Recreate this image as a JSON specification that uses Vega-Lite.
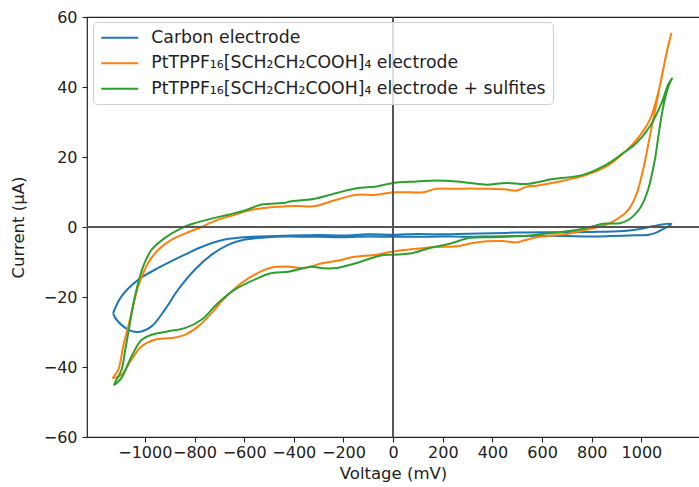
{
  "$schema": "https://vega.github.io/schema/vega-lite/v6.json",
  "width": 614,
  "height": 420,
  "autosize": {"type": "none"},
  "padding": {"left": 87, "top": 17, "right": 0, "bottom": 50},
  "background": "white",
  "config": {
    "view": {"stroke": "#222", "strokeWidth": 1.2},
    "font": "DejaVu Sans",
    "axis": {
      "domain": false,
      "grid": false,
      "tickColor": "#222",
      "tickSize": 5,
      "tickWidth": 1.1,
      "labelFont": "DejaVu Sans",
      "labelFontSize": 16,
      "labelColor": "#222",
      "labelOverlap": false,
      "titleFont": "DejaVu Sans",
      "titleFontSize": 16.5,
      "titleFontWeight": "normal",
      "titleColor": "#222"
    }
  },
  "data": {
    "values": [
      {"s": "Carbon electrode", "i": 1, "v": -1128, "c": -24.6},
      {"s": "Carbon electrode", "i": 2, "v": -1094, "c": -19.8},
      {"s": "Carbon electrode", "i": 3, "v": -1027, "c": -15.1},
      {"s": "Carbon electrode", "i": 4, "v": -946, "c": -11.7},
      {"s": "Carbon electrode", "i": 5, "v": -839, "c": -7.9},
      {"s": "Carbon electrode", "i": 6, "v": -772, "c": -5.7},
      {"s": "Carbon electrode", "i": 7, "v": -678, "c": -3.6},
      {"s": "Carbon electrode", "i": 8, "v": -570, "c": -2.8},
      {"s": "Carbon electrode", "i": 9, "v": -436, "c": -2.5},
      {"s": "Carbon electrode", "i": 10, "v": -300, "c": -2.3},
      {"s": "Carbon electrode", "i": 11, "v": -200, "c": -2.4},
      {"s": "Carbon electrode", "i": 12, "v": -100, "c": -2.1},
      {"s": "Carbon electrode", "i": 13, "v": 0, "c": -2.2},
      {"s": "Carbon electrode", "i": 14, "v": 100, "c": -2.0},
      {"s": "Carbon electrode", "i": 15, "v": 200, "c": -2.1},
      {"s": "Carbon electrode", "i": 16, "v": 300, "c": -1.9},
      {"s": "Carbon electrode", "i": 17, "v": 400, "c": -1.8},
      {"s": "Carbon electrode", "i": 18, "v": 500, "c": -1.6},
      {"s": "Carbon electrode", "i": 19, "v": 600, "c": -1.5},
      {"s": "Carbon electrode", "i": 20, "v": 700, "c": -1.5},
      {"s": "Carbon electrode", "i": 21, "v": 800, "c": -1.4},
      {"s": "Carbon electrode", "i": 22, "v": 880, "c": -1.3},
      {"s": "Carbon electrode", "i": 23, "v": 940, "c": -1.1},
      {"s": "Carbon electrode", "i": 24, "v": 1000, "c": -0.5},
      {"s": "Carbon electrode", "i": 25, "v": 1050, "c": 0.3},
      {"s": "Carbon electrode", "i": 26, "v": 1121, "c": 0.9},
      {"s": "Carbon electrode", "i": 27, "v": 1090, "c": -0.5},
      {"s": "Carbon electrode", "i": 28, "v": 1060, "c": -1.6},
      {"s": "Carbon electrode", "i": 29, "v": 1030, "c": -2.2},
      {"s": "Carbon electrode", "i": 30, "v": 950, "c": -2.4},
      {"s": "Carbon electrode", "i": 31, "v": 870, "c": -2.6},
      {"s": "Carbon electrode", "i": 32, "v": 800, "c": -2.7},
      {"s": "Carbon electrode", "i": 33, "v": 700, "c": -2.6},
      {"s": "Carbon electrode", "i": 34, "v": 600, "c": -2.5},
      {"s": "Carbon electrode", "i": 35, "v": 500, "c": -2.6},
      {"s": "Carbon electrode", "i": 36, "v": 400, "c": -2.7},
      {"s": "Carbon electrode", "i": 37, "v": 300, "c": -2.8},
      {"s": "Carbon electrode", "i": 38, "v": 200, "c": -2.7},
      {"s": "Carbon electrode", "i": 39, "v": 100, "c": -2.8},
      {"s": "Carbon electrode", "i": 40, "v": 0, "c": -2.8},
      {"s": "Carbon electrode", "i": 41, "v": -100, "c": -2.7},
      {"s": "Carbon electrode", "i": 42, "v": -200, "c": -2.9},
      {"s": "Carbon electrode", "i": 43, "v": -300, "c": -2.8},
      {"s": "Carbon electrode", "i": 44, "v": -436, "c": -2.7},
      {"s": "Carbon electrode", "i": 45, "v": -517, "c": -3.0},
      {"s": "Carbon electrode", "i": 46, "v": -597, "c": -3.6},
      {"s": "Carbon electrode", "i": 47, "v": -665, "c": -5.1},
      {"s": "Carbon electrode", "i": 48, "v": -731, "c": -7.9},
      {"s": "Carbon electrode", "i": 49, "v": -799, "c": -12.2},
      {"s": "Carbon electrode", "i": 50, "v": -866, "c": -17.9},
      {"s": "Carbon electrode", "i": 51, "v": -919, "c": -23.6},
      {"s": "Carbon electrode", "i": 52, "v": -973, "c": -28.4},
      {"s": "Carbon electrode", "i": 53, "v": -1027, "c": -30.0},
      {"s": "Carbon electrode", "i": 54, "v": -1067, "c": -29.3},
      {"s": "Carbon electrode", "i": 55, "v": -1114, "c": -26.5},
      {"s": "Carbon electrode", "i": 56, "v": -1128, "c": -24.6},

      {"s": "PtTPPF₁₆[SCH₂CH₂COOH]₄ electrode", "i": 1, "v": 1121, "c": 55.4},
      {"s": "PtTPPF₁₆[SCH₂CH₂COOH]₄ electrode", "i": 2, "v": 1114, "c": 53.5},
      {"s": "PtTPPF₁₆[SCH₂CH₂COOH]₄ electrode", "i": 3, "v": 1087, "c": 44.9},
      {"s": "PtTPPF₁₆[SCH₂CH₂COOH]₄ electrode", "i": 4, "v": 1061, "c": 35.4},
      {"s": "PtTPPF₁₆[SCH₂CH₂COOH]₄ electrode", "i": 5, "v": 1034, "c": 25.9},
      {"s": "PtTPPF₁₆[SCH₂CH₂COOH]₄ electrode", "i": 6, "v": 1007, "c": 16.4},
      {"s": "PtTPPF₁₆[SCH₂CH₂COOH]₄ electrode", "i": 7, "v": 975, "c": 8.4},
      {"s": "PtTPPF₁₆[SCH₂CH₂COOH]₄ electrode", "i": 8, "v": 940, "c": 4.3},
      {"s": "PtTPPF₁₆[SCH₂CH₂COOH]₄ electrode", "i": 9, "v": 913, "c": 2.8},
      {"s": "PtTPPF₁₆[SCH₂CH₂COOH]₄ electrode", "i": 10, "v": 886, "c": 1.6},
      {"s": "PtTPPF₁₆[SCH₂CH₂COOH]₄ electrode", "i": 11, "v": 859, "c": 0.7},
      {"s": "PtTPPF₁₆[SCH₂CH₂COOH]₄ electrode", "i": 12, "v": 779, "c": -0.8},
      {"s": "PtTPPF₁₆[SCH₂CH₂COOH]₄ electrode", "i": 13, "v": 700, "c": -2.0},
      {"s": "PtTPPF₁₆[SCH₂CH₂COOH]₄ electrode", "i": 14, "v": 620, "c": -2.6},
      {"s": "PtTPPF₁₆[SCH₂CH₂COOH]₄ electrode", "i": 15, "v": 577, "c": -2.9},
      {"s": "PtTPPF₁₆[SCH₂CH₂COOH]₄ electrode", "i": 16, "v": 530, "c": -3.8},
      {"s": "PtTPPF₁₆[SCH₂CH₂COOH]₄ electrode", "i": 17, "v": 497, "c": -4.4},
      {"s": "PtTPPF₁₆[SCH₂CH₂COOH]₄ electrode", "i": 18, "v": 440, "c": -4.0},
      {"s": "PtTPPF₁₆[SCH₂CH₂COOH]₄ electrode", "i": 19, "v": 376, "c": -4.1},
      {"s": "PtTPPF₁₆[SCH₂CH₂COOH]₄ electrode", "i": 20, "v": 320, "c": -4.6},
      {"s": "PtTPPF₁₆[SCH₂CH₂COOH]₄ electrode", "i": 21, "v": 255, "c": -5.5},
      {"s": "PtTPPF₁₆[SCH₂CH₂COOH]₄ electrode", "i": 22, "v": 175, "c": -5.7},
      {"s": "PtTPPF₁₆[SCH₂CH₂COOH]₄ electrode", "i": 23, "v": 81, "c": -6.3},
      {"s": "PtTPPF₁₆[SCH₂CH₂COOH]₄ electrode", "i": 24, "v": 0, "c": -7.0},
      {"s": "PtTPPF₁₆[SCH₂CH₂COOH]₄ electrode", "i": 25, "v": -67, "c": -7.9},
      {"s": "PtTPPF₁₆[SCH₂CH₂COOH]₄ electrode", "i": 26, "v": -161, "c": -8.6},
      {"s": "PtTPPF₁₆[SCH₂CH₂COOH]₄ electrode", "i": 27, "v": -220, "c": -9.6},
      {"s": "PtTPPF₁₆[SCH₂CH₂COOH]₄ electrode", "i": 28, "v": -282, "c": -10.3},
      {"s": "PtTPPF₁₆[SCH₂CH₂COOH]₄ electrode", "i": 29, "v": -362, "c": -11.7},
      {"s": "PtTPPF₁₆[SCH₂CH₂COOH]₄ electrode", "i": 30, "v": -429, "c": -11.3},
      {"s": "PtTPPF₁₆[SCH₂CH₂COOH]₄ electrode", "i": 31, "v": -497, "c": -11.7},
      {"s": "PtTPPF₁₆[SCH₂CH₂COOH]₄ electrode", "i": 32, "v": -544, "c": -13.1},
      {"s": "PtTPPF₁₆[SCH₂CH₂COOH]₄ electrode", "i": 33, "v": -611, "c": -16.0},
      {"s": "PtTPPF₁₆[SCH₂CH₂COOH]₄ electrode", "i": 34, "v": -678, "c": -20.3},
      {"s": "PtTPPF₁₆[SCH₂CH₂COOH]₄ electrode", "i": 35, "v": -731, "c": -24.6},
      {"s": "PtTPPF₁₆[SCH₂CH₂COOH]₄ electrode", "i": 36, "v": -785, "c": -28.4},
      {"s": "PtTPPF₁₆[SCH₂CH₂COOH]₄ electrode", "i": 37, "v": -839, "c": -30.8},
      {"s": "PtTPPF₁₆[SCH₂CH₂COOH]₄ electrode", "i": 38, "v": -892, "c": -31.7},
      {"s": "PtTPPF₁₆[SCH₂CH₂COOH]₄ electrode", "i": 39, "v": -960, "c": -32.2},
      {"s": "PtTPPF₁₆[SCH₂CH₂COOH]₄ electrode", "i": 40, "v": -1013, "c": -34.1},
      {"s": "PtTPPF₁₆[SCH₂CH₂COOH]₄ electrode", "i": 41, "v": -1054, "c": -37.9},
      {"s": "PtTPPF₁₆[SCH₂CH₂COOH]₄ electrode", "i": 42, "v": -1094, "c": -42.2},
      {"s": "PtTPPF₁₆[SCH₂CH₂COOH]₄ electrode", "i": 43, "v": -1128, "c": -43.1},
      {"s": "PtTPPF₁₆[SCH₂CH₂COOH]₄ electrode", "i": 44, "v": -1107, "c": -40.8},
      {"s": "PtTPPF₁₆[SCH₂CH₂COOH]₄ electrode", "i": 45, "v": -1087, "c": -34.0},
      {"s": "PtTPPF₁₆[SCH₂CH₂COOH]₄ electrode", "i": 46, "v": -1067, "c": -28.4},
      {"s": "PtTPPF₁₆[SCH₂CH₂COOH]₄ electrode", "i": 47, "v": -1047, "c": -22.5},
      {"s": "PtTPPF₁₆[SCH₂CH₂COOH]₄ electrode", "i": 48, "v": -1027, "c": -17.0},
      {"s": "PtTPPF₁₆[SCH₂CH₂COOH]₄ electrode", "i": 49, "v": -1007, "c": -13.3},
      {"s": "PtTPPF₁₆[SCH₂CH₂COOH]₄ electrode", "i": 50, "v": -987, "c": -10.3},
      {"s": "PtTPPF₁₆[SCH₂CH₂COOH]₄ electrode", "i": 51, "v": -946, "c": -6.5},
      {"s": "PtTPPF₁₆[SCH₂CH₂COOH]₄ electrode", "i": 52, "v": -892, "c": -3.6},
      {"s": "PtTPPF₁₆[SCH₂CH₂COOH]₄ electrode", "i": 53, "v": -839, "c": -1.9},
      {"s": "PtTPPF₁₆[SCH₂CH₂COOH]₄ electrode", "i": 54, "v": -772, "c": 0.0},
      {"s": "PtTPPF₁₆[SCH₂CH₂COOH]₄ electrode", "i": 55, "v": -705, "c": 2.1},
      {"s": "PtTPPF₁₆[SCH₂CH₂COOH]₄ electrode", "i": 56, "v": -638, "c": 3.5},
      {"s": "PtTPPF₁₆[SCH₂CH₂COOH]₄ electrode", "i": 57, "v": -570, "c": 4.9},
      {"s": "PtTPPF₁₆[SCH₂CH₂COOH]₄ electrode", "i": 58, "v": -503, "c": 5.6},
      {"s": "PtTPPF₁₆[SCH₂CH₂COOH]₄ electrode", "i": 59, "v": -436, "c": 5.9},
      {"s": "PtTPPF₁₆[SCH₂CH₂COOH]₄ electrode", "i": 60, "v": -380, "c": 6.0},
      {"s": "PtTPPF₁₆[SCH₂CH₂COOH]₄ electrode", "i": 61, "v": -322, "c": 5.9},
      {"s": "PtTPPF₁₆[SCH₂CH₂COOH]₄ electrode", "i": 62, "v": -228, "c": 7.8},
      {"s": "PtTPPF₁₆[SCH₂CH₂COOH]₄ electrode", "i": 63, "v": -147, "c": 9.2},
      {"s": "PtTPPF₁₆[SCH₂CH₂COOH]₄ electrode", "i": 64, "v": -67, "c": 9.2},
      {"s": "PtTPPF₁₆[SCH₂CH₂COOH]₄ electrode", "i": 65, "v": 0, "c": 9.9},
      {"s": "PtTPPF₁₆[SCH₂CH₂COOH]₄ electrode", "i": 66, "v": 67, "c": 9.9},
      {"s": "PtTPPF₁₆[SCH₂CH₂COOH]₄ electrode", "i": 67, "v": 121, "c": 9.9},
      {"s": "PtTPPF₁₆[SCH₂CH₂COOH]₄ electrode", "i": 68, "v": 175, "c": 10.9},
      {"s": "PtTPPF₁₆[SCH₂CH₂COOH]₄ electrode", "i": 69, "v": 255, "c": 10.9},
      {"s": "PtTPPF₁₆[SCH₂CH₂COOH]₄ electrode", "i": 70, "v": 309, "c": 11.0},
      {"s": "PtTPPF₁₆[SCH₂CH₂COOH]₄ electrode", "i": 71, "v": 389, "c": 10.9},
      {"s": "PtTPPF₁₆[SCH₂CH₂COOH]₄ electrode", "i": 72, "v": 450, "c": 10.8},
      {"s": "PtTPPF₁₆[SCH₂CH₂COOH]₄ electrode", "i": 73, "v": 497, "c": 10.4},
      {"s": "PtTPPF₁₆[SCH₂CH₂COOH]₄ electrode", "i": 74, "v": 537, "c": 11.5},
      {"s": "PtTPPF₁₆[SCH₂CH₂COOH]₄ electrode", "i": 75, "v": 577, "c": 11.8},
      {"s": "PtTPPF₁₆[SCH₂CH₂COOH]₄ electrode", "i": 76, "v": 671, "c": 13.0},
      {"s": "PtTPPF₁₆[SCH₂CH₂COOH]₄ electrode", "i": 77, "v": 779, "c": 14.9},
      {"s": "PtTPPF₁₆[SCH₂CH₂COOH]₄ electrode", "i": 78, "v": 859, "c": 17.3},
      {"s": "PtTPPF₁₆[SCH₂CH₂COOH]₄ electrode", "i": 79, "v": 913, "c": 20.2},
      {"s": "PtTPPF₁₆[SCH₂CH₂COOH]₄ electrode", "i": 80, "v": 980, "c": 24.9},
      {"s": "PtTPPF₁₆[SCH₂CH₂COOH]₄ electrode", "i": 81, "v": 1034, "c": 30.7},
      {"s": "PtTPPF₁₆[SCH₂CH₂COOH]₄ electrode", "i": 82, "v": 1074, "c": 40.2},
      {"s": "PtTPPF₁₆[SCH₂CH₂COOH]₄ electrode", "i": 83, "v": 1101, "c": 49.7},
      {"s": "PtTPPF₁₆[SCH₂CH₂COOH]₄ electrode", "i": 84, "v": 1121, "c": 55.4},

      {"s": "PtTPPF₁₆[SCH₂CH₂COOH]₄ electrode + sulfites", "i": 1, "v": 1125, "c": 42.6},
      {"s": "PtTPPF₁₆[SCH₂CH₂COOH]₄ electrode + sulfites", "i": 2, "v": 1114, "c": 41.1},
      {"s": "PtTPPF₁₆[SCH₂CH₂COOH]₄ electrode + sulfites", "i": 3, "v": 1094, "c": 36.4},
      {"s": "PtTPPF₁₆[SCH₂CH₂COOH]₄ electrode + sulfites", "i": 4, "v": 1074, "c": 28.7},
      {"s": "PtTPPF₁₆[SCH₂CH₂COOH]₄ electrode + sulfites", "i": 5, "v": 1054, "c": 19.2},
      {"s": "PtTPPF₁₆[SCH₂CH₂COOH]₄ electrode + sulfites", "i": 6, "v": 1027, "c": 10.7},
      {"s": "PtTPPF₁₆[SCH₂CH₂COOH]₄ electrode + sulfites", "i": 7, "v": 998, "c": 5.8},
      {"s": "PtTPPF₁₆[SCH₂CH₂COOH]₄ electrode + sulfites", "i": 8, "v": 953, "c": 2.3},
      {"s": "PtTPPF₁₆[SCH₂CH₂COOH]₄ electrode + sulfites", "i": 9, "v": 913, "c": 1.1},
      {"s": "PtTPPF₁₆[SCH₂CH₂COOH]₄ electrode + sulfites", "i": 10, "v": 880, "c": 1.0},
      {"s": "PtTPPF₁₆[SCH₂CH₂COOH]₄ electrode + sulfites", "i": 11, "v": 846, "c": 0.9},
      {"s": "PtTPPF₁₆[SCH₂CH₂COOH]₄ electrode + sulfites", "i": 12, "v": 805, "c": 0.2},
      {"s": "PtTPPF₁₆[SCH₂CH₂COOH]₄ electrode + sulfites", "i": 13, "v": 760, "c": -0.6},
      {"s": "PtTPPF₁₆[SCH₂CH₂COOH]₄ electrode + sulfites", "i": 14, "v": 671, "c": -1.5},
      {"s": "PtTPPF₁₆[SCH₂CH₂COOH]₄ electrode + sulfites", "i": 15, "v": 600, "c": -2.0},
      {"s": "PtTPPF₁₆[SCH₂CH₂COOH]₄ electrode + sulfites", "i": 16, "v": 537, "c": -2.5},
      {"s": "PtTPPF₁₆[SCH₂CH₂COOH]₄ electrode + sulfites", "i": 17, "v": 470, "c": -2.7},
      {"s": "PtTPPF₁₆[SCH₂CH₂COOH]₄ electrode + sulfites", "i": 18, "v": 403, "c": -2.9},
      {"s": "PtTPPF₁₆[SCH₂CH₂COOH]₄ electrode + sulfites", "i": 19, "v": 309, "c": -3.1},
      {"s": "PtTPPF₁₆[SCH₂CH₂COOH]₄ electrode + sulfites", "i": 20, "v": 228, "c": -4.8},
      {"s": "PtTPPF₁₆[SCH₂CH₂COOH]₄ electrode + sulfites", "i": 21, "v": 148, "c": -6.0},
      {"s": "PtTPPF₁₆[SCH₂CH₂COOH]₄ electrode + sulfites", "i": 22, "v": 67, "c": -7.6},
      {"s": "PtTPPF₁₆[SCH₂CH₂COOH]₄ electrode + sulfites", "i": 23, "v": 0, "c": -7.9},
      {"s": "PtTPPF₁₆[SCH₂CH₂COOH]₄ electrode + sulfites", "i": 24, "v": -54, "c": -8.2},
      {"s": "PtTPPF₁₆[SCH₂CH₂COOH]₄ electrode + sulfites", "i": 25, "v": -147, "c": -10.3},
      {"s": "PtTPPF₁₆[SCH₂CH₂COOH]₄ electrode + sulfites", "i": 26, "v": -228, "c": -11.7},
      {"s": "PtTPPF₁₆[SCH₂CH₂COOH]₄ electrode + sulfites", "i": 27, "v": -280, "c": -11.8},
      {"s": "PtTPPF₁₆[SCH₂CH₂COOH]₄ electrode + sulfites", "i": 28, "v": -335, "c": -11.4},
      {"s": "PtTPPF₁₆[SCH₂CH₂COOH]₄ electrode + sulfites", "i": 29, "v": -416, "c": -12.7},
      {"s": "PtTPPF₁₆[SCH₂CH₂COOH]₄ electrode + sulfites", "i": 30, "v": -497, "c": -13.3},
      {"s": "PtTPPF₁₆[SCH₂CH₂COOH]₄ electrode + sulfites", "i": 31, "v": -544, "c": -14.6},
      {"s": "PtTPPF₁₆[SCH₂CH₂COOH]₄ electrode + sulfites", "i": 32, "v": -638, "c": -17.9},
      {"s": "PtTPPF₁₆[SCH₂CH₂COOH]₄ electrode + sulfites", "i": 33, "v": -705, "c": -21.7},
      {"s": "PtTPPF₁₆[SCH₂CH₂COOH]₄ electrode + sulfites", "i": 34, "v": -772, "c": -26.5},
      {"s": "PtTPPF₁₆[SCH₂CH₂COOH]₄ electrode + sulfites", "i": 35, "v": -839, "c": -28.9},
      {"s": "PtTPPF₁₆[SCH₂CH₂COOH]₄ electrode + sulfites", "i": 36, "v": -906, "c": -29.8},
      {"s": "PtTPPF₁₆[SCH₂CH₂COOH]₄ electrode + sulfites", "i": 37, "v": -973, "c": -30.8},
      {"s": "PtTPPF₁₆[SCH₂CH₂COOH]₄ electrode + sulfites", "i": 38, "v": -1013, "c": -32.2},
      {"s": "PtTPPF₁₆[SCH₂CH₂COOH]₄ electrode + sulfites", "i": 39, "v": -1054, "c": -37.0},
      {"s": "PtTPPF₁₆[SCH₂CH₂COOH]₄ electrode + sulfites", "i": 40, "v": -1094, "c": -43.1},
      {"s": "PtTPPF₁₆[SCH₂CH₂COOH]₄ electrode + sulfites", "i": 41, "v": -1124, "c": -45.1},
      {"s": "PtTPPF₁₆[SCH₂CH₂COOH]₄ electrode + sulfites", "i": 42, "v": -1094, "c": -40.8},
      {"s": "PtTPPF₁₆[SCH₂CH₂COOH]₄ electrode + sulfites", "i": 43, "v": -1080, "c": -35.5},
      {"s": "PtTPPF₁₆[SCH₂CH₂COOH]₄ electrode + sulfites", "i": 44, "v": -1067, "c": -30.3},
      {"s": "PtTPPF₁₆[SCH₂CH₂COOH]₄ electrode + sulfites", "i": 45, "v": -1040, "c": -19.8},
      {"s": "PtTPPF₁₆[SCH₂CH₂COOH]₄ electrode + sulfites", "i": 46, "v": -1007, "c": -11.3},
      {"s": "PtTPPF₁₆[SCH₂CH₂COOH]₄ electrode + sulfites", "i": 47, "v": -973, "c": -6.5},
      {"s": "PtTPPF₁₆[SCH₂CH₂COOH]₄ electrode + sulfites", "i": 48, "v": -919, "c": -3.1},
      {"s": "PtTPPF₁₆[SCH₂CH₂COOH]₄ electrode + sulfites", "i": 49, "v": -852, "c": -0.3},
      {"s": "PtTPPF₁₆[SCH₂CH₂COOH]₄ electrode + sulfites", "i": 50, "v": -799, "c": 1.1},
      {"s": "PtTPPF₁₆[SCH₂CH₂COOH]₄ electrode + sulfites", "i": 51, "v": -731, "c": 2.4},
      {"s": "PtTPPF₁₆[SCH₂CH₂COOH]₄ electrode + sulfites", "i": 52, "v": -665, "c": 3.5},
      {"s": "PtTPPF₁₆[SCH₂CH₂COOH]₄ electrode + sulfites", "i": 53, "v": -597, "c": 4.7},
      {"s": "PtTPPF₁₆[SCH₂CH₂COOH]₄ electrode + sulfites", "i": 54, "v": -530, "c": 6.4},
      {"s": "PtTPPF₁₆[SCH₂CH₂COOH]₄ electrode + sulfites", "i": 55, "v": -436, "c": 6.9},
      {"s": "PtTPPF₁₆[SCH₂CH₂COOH]₄ electrode + sulfites", "i": 56, "v": -416, "c": 7.3},
      {"s": "PtTPPF₁₆[SCH₂CH₂COOH]₄ electrode + sulfites", "i": 57, "v": -322, "c": 8.0},
      {"s": "PtTPPF₁₆[SCH₂CH₂COOH]₄ electrode + sulfites", "i": 58, "v": -228, "c": 9.7},
      {"s": "PtTPPF₁₆[SCH₂CH₂COOH]₄ electrode + sulfites", "i": 59, "v": -147, "c": 11.1},
      {"s": "PtTPPF₁₆[SCH₂CH₂COOH]₄ electrode + sulfites", "i": 60, "v": -67, "c": 11.6},
      {"s": "PtTPPF₁₆[SCH₂CH₂COOH]₄ electrode + sulfites", "i": 61, "v": 0, "c": 12.6},
      {"s": "PtTPPF₁₆[SCH₂CH₂COOH]₄ electrode + sulfites", "i": 62, "v": 94, "c": 13.0},
      {"s": "PtTPPF₁₆[SCH₂CH₂COOH]₄ electrode + sulfites", "i": 63, "v": 175, "c": 13.3},
      {"s": "PtTPPF₁₆[SCH₂CH₂COOH]₄ electrode + sulfites", "i": 64, "v": 255, "c": 13.0},
      {"s": "PtTPPF₁₆[SCH₂CH₂COOH]₄ electrode + sulfites", "i": 65, "v": 309, "c": 12.6},
      {"s": "PtTPPF₁₆[SCH₂CH₂COOH]₄ electrode + sulfites", "i": 66, "v": 376, "c": 12.1},
      {"s": "PtTPPF₁₆[SCH₂CH₂COOH]₄ electrode + sulfites", "i": 67, "v": 457, "c": 12.6},
      {"s": "PtTPPF₁₆[SCH₂CH₂COOH]₄ electrode + sulfites", "i": 68, "v": 537, "c": 12.3},
      {"s": "PtTPPF₁₆[SCH₂CH₂COOH]₄ electrode + sulfites", "i": 69, "v": 644, "c": 13.7},
      {"s": "PtTPPF₁₆[SCH₂CH₂COOH]₄ electrode + sulfites", "i": 70, "v": 765, "c": 14.9},
      {"s": "PtTPPF₁₆[SCH₂CH₂COOH]₄ electrode + sulfites", "i": 71, "v": 859, "c": 17.8},
      {"s": "PtTPPF₁₆[SCH₂CH₂COOH]₄ electrode + sulfites", "i": 72, "v": 926, "c": 21.1},
      {"s": "PtTPPF₁₆[SCH₂CH₂COOH]₄ electrode + sulfites", "i": 73, "v": 980, "c": 24.0},
      {"s": "PtTPPF₁₆[SCH₂CH₂COOH]₄ electrode + sulfites", "i": 74, "v": 1034, "c": 28.7},
      {"s": "PtTPPF₁₆[SCH₂CH₂COOH]₄ electrode + sulfites", "i": 75, "v": 1081, "c": 35.4},
      {"s": "PtTPPF₁₆[SCH₂CH₂COOH]₄ electrode + sulfites", "i": 76, "v": 1108, "c": 40.7},
      {"s": "PtTPPF₁₆[SCH₂CH₂COOH]₄ electrode + sulfites", "i": 77, "v": 1125, "c": 42.6}
    ]
  },
  "layer": [
    {
      "mark": {"type": "line", "interpolate": "catmull-rom", "strokeWidth": 2, "clip": true},
      "encoding": {
        "x": {
          "field": "v", "type": "quantitative",
          "scale": {"domain": [-1233, 1240], "nice": false, "zero": false},
          "axis": {"values": [-1000, -800, -600, -400, -200, 0, 200, 400, 600, 800, 1000], "format": "d", "title": "Voltage (mV)", "titleX": 306, "titleY": 36, "titleBaseline": "middle", "titleAlign": "center", "labelPadding": 2, "labelFlush": false}
        },
        "y": {
          "field": "c", "type": "quantitative",
          "scale": {"domain": [-60, 60], "nice": false, "zero": false},
          "axis": {"values": [-60, -50, -40, -30, -20, -10, 0, 10, 20, 30, 40, 50, 60], "format": "d", "title": "Current (μA)", "titleX": -69, "titleY": 210, "titleBaseline": "middle", "titleAlign": "center", "labelPadding": 5, "labelFlush": false}
        },
        "order": {"field": "i", "type": "quantitative"},
        "color": {
          "field": "s", "type": "nominal",
          "scale": {
            "domain": ["Carbon electrode", "PtTPPF₁₆[SCH₂CH₂COOH]₄ electrode", "PtTPPF₁₆[SCH₂CH₂COOH]₄ electrode + sulfites"],
            "range": ["#1f77b4", "#ff7f0e", "#2ca02c"]
          },
          "legend": {
            "title": null,
            "orient": "none",
            "legendX": 6,
            "legendY": 5,
            "direction": "vertical",
            "symbolType": "M-1,0H4",
            "symbolSize": 219,
            "symbolStrokeWidth": 2,
            "labelFont": "DejaVu Sans",
            "labelFontSize": 17.3,
            "labelColor": "#222",
            "labelOffset": 34,
            "labelLimit": 500,
            "rowPadding": 7.5,
            "padding": 7,
            "fillColor": "rgba(255,255,255,0.8)",
            "strokeColor": "#d0d0d0",
            "cornerRadius": 4
          }
        }
      }
    },
    {
      "mark": {"type": "rule", "color": "#555", "opacity": 0.85, "strokeWidth": 1.4},
      "encoding": {"y": {"datum": 0}}
    },
    {
      "mark": {"type": "rule", "color": "#555", "opacity": 0.85, "strokeWidth": 1.4},
      "encoding": {"x": {"datum": 0}}
    }
  ]
}
